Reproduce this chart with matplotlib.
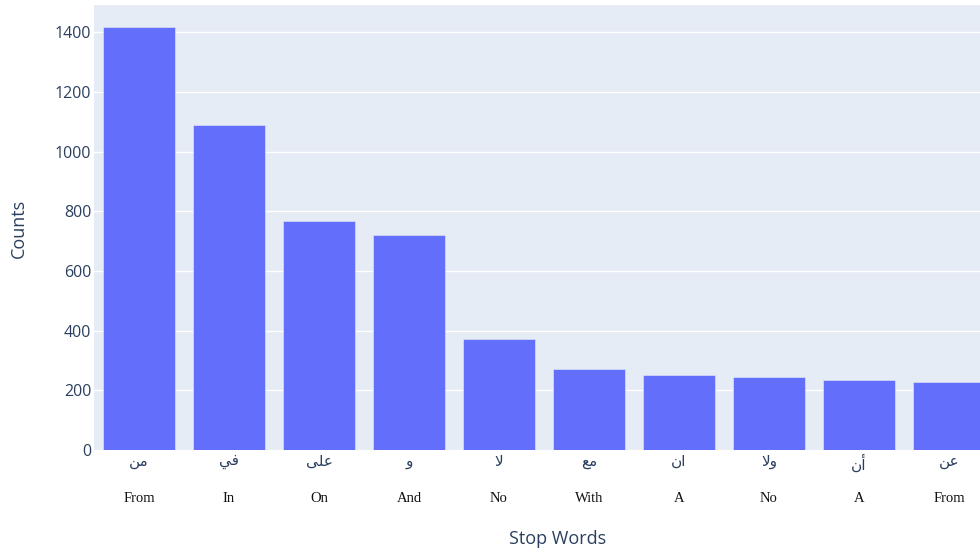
import matplotlib
matplotlib.use("Agg")
import matplotlib.pyplot as plt
from matplotlib.transforms import blended_transform_factory

# ---- data ----
arabic_words = ["من", "في", "على", "و", "لا", "مع", "ان", "ولا", "أن", "عن"]
english_words = ["From", "In", "On", "And", "No", "With", "A", "No", "A", "From"]
counts = [1417, 1088, 767, 721, 371, 271, 251, 246, 234, 228]
y_ticks = [0, 200, 400, 600, 800, 1000, 1200, 1400]

# ---- minimal Arabic shaping (matplotlib does no shaping / bidi) ----
FORMS = {  # isolated, final, initial, medial
    'ا': ('\uFE8D', '\uFE8E', None, None),
    'أ': ('\uFE83', '\uFE84', None, None),
    'و': ('\uFEED', '\uFEEE', None, None),
    'ى': ('\uFEEF', '\uFEF0', None, None),
    'ع': ('\uFEC9', '\uFECA', '\uFECB', '\uFECC'),
    'ف': ('\uFED1', '\uFED2', '\uFED3', '\uFED4'),
    'ل': ('\uFEDD', '\uFEDE', '\uFEDF', '\uFEE0'),
    'م': ('\uFEE1', '\uFEE2', '\uFEE3', '\uFEE4'),
    'ن': ('\uFEE5', '\uFEE6', '\uFEE7', '\uFEE8'),
    'ي': ('\uFEF1', '\uFEF2', '\uFEF3', '\uFEF4'),
}
LAM_ALEF = {'ا': ('\uFEFB', '\uFEFC'), 'أ': ('\uFEF7', '\uFEF8')}


def shape(word):
    chars = []
    i = 0
    while i < len(word):
        if word[i] == 'ل' and i + 1 < len(word) and word[i + 1] in LAM_ALEF:
            chars.append(('LA', word[i + 1]))
            i += 2
        else:
            chars.append(('C', word[i]))
            i += 1
    out = []
    for k, (kind, c) in enumerate(chars):
        prev_joins = (k > 0 and chars[k - 1][0] == 'C'
                      and FORMS[chars[k - 1][1]][2] is not None)
        if kind == 'LA':
            out.append(LAM_ALEF[c][1 if prev_joins else 0])
            continue
        f = FORMS[c]
        join_next = f[2] is not None and k + 1 < len(chars)
        if prev_joins and join_next:
            out.append(f[3])
        elif prev_joins:
            out.append(f[1])
        elif join_next:
            out.append(f[2])
        else:
            out.append(f[0])
    return ''.join(reversed(out))


BG = '#E5ECF6'
BAR = '#636EFA'
TXT = '#2a3f5f'

fig = plt.figure(figsize=(9.8, 5.54), dpi=100)
ax = fig.add_axes([94 / 980, (554 - 450) / 554, 1 - 94 / 980, (450 - 5) / 554])
ax.set_facecolor(BG)

x = list(range(len(counts)))
ax.bar(x, counts, width=0.8, color=BAR, edgecolor=BG, linewidth=0.4, zorder=3)

ax.set_xlim(-0.5, 9.345)
ax.set_ylim(0, 1492)
ax.set_yticks(y_ticks)
ax.set_yticklabels([str(v) for v in y_ticks], family='Open Sans', fontsize=11.5, color=TXT)
ax.tick_params(axis='y', length=0, pad=2)
ax.grid(axis='y', color='white', linewidth=1.0, zorder=0)
ax.set_axisbelow(True)
for s in ax.spines.values():
    s.set_visible(False)

ax.set_xticks(x)
ax.set_xticklabels([shape(w) for w in arabic_words], family=['DejaVu Sans'],
                   fontsize=11, color=TXT)
ax.tick_params(axis='x', length=0, pad=3)

tr = blended_transform_factory(ax.transData, fig.transFigure)
for xi, w in zip(x, english_words):
    ax.text(xi, (554 - 498) / 554, w, transform=tr, ha='center', va='center',
            family='Liberation Serif', fontsize=10.5, color='#111111', clip_on=False)

fig.text(19 / 980, (554 - 228) / 554, 'Counts', rotation=90, ha='center', va='center',
         family='Open Sans', fontsize=13, color=TXT)
fig.text(558 / 980, (554 - 539) / 554, 'Stop Words', ha='center', va='center',
         family='Open Sans', fontsize=13, color=TXT)

fig.savefig('out.png', dpi=100, facecolor='white')
